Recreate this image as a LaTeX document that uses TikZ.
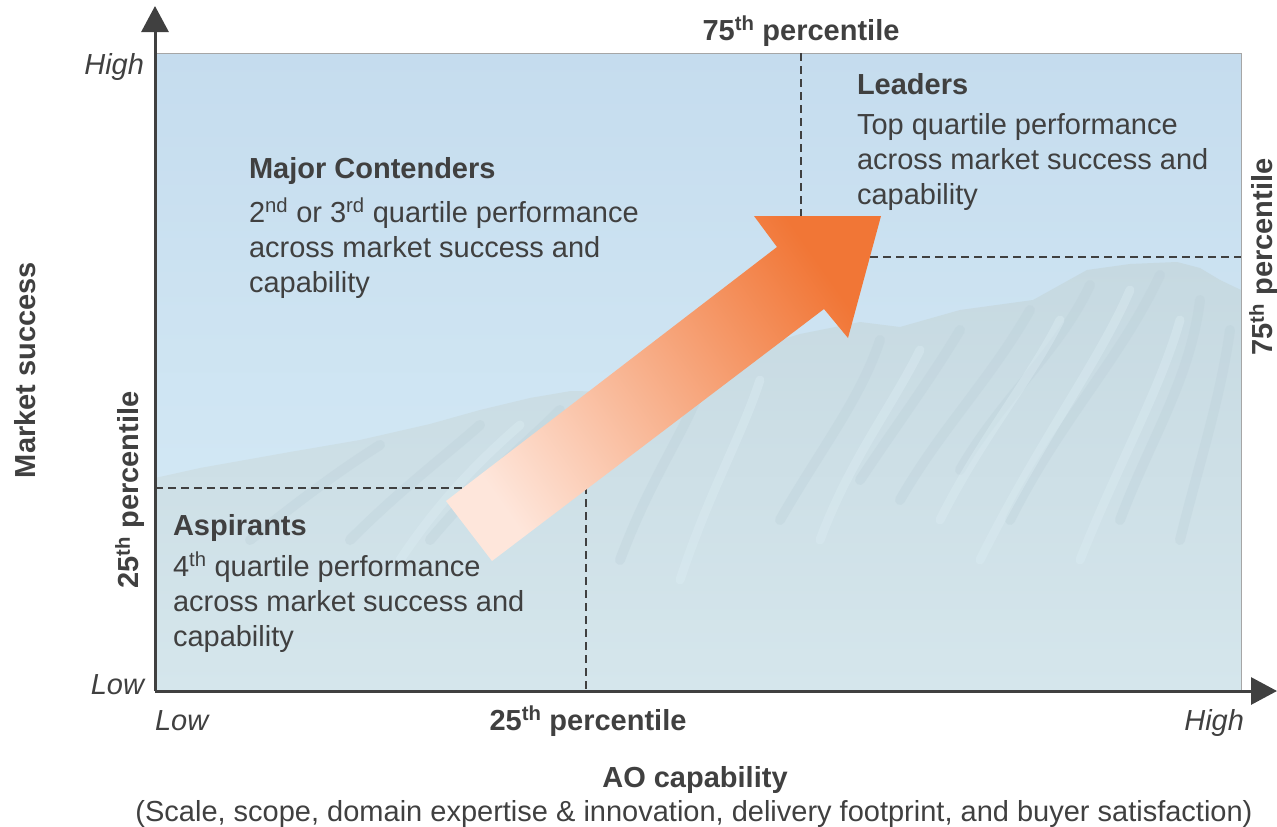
\documentclass[tikz,border=0pt]{standalone}
\usepackage{fontspec}
\setmainfont{Liberation Sans}
\usetikzlibrary{arrows.meta}
\definecolor{txt}{HTML}{404040}
\definecolor{skytop}{HTML}{C5DCEE}
\definecolor{skybot}{HTML}{D8EDF7}
\definecolor{mtntop}{HTML}{C6D9E1}
\definecolor{mtnbot}{HTML}{D5E6EC}
\definecolor{mshade}{HTML}{BCD0D9}
\definecolor{msnow}{HTML}{DCEDF3}
\definecolor{arrtail}{HTML}{FEE6DB}
\definecolor{arrtip}{HTML}{F17636}
\begin{document}
\begin{tikzpicture}[x=1pt,y=-1pt,
  every node/.style={inner sep=0pt,outer sep=0pt,text=txt,font=\fontsize{29}{35}\selectfont},
  axisline/.style={draw=txt,line width=3pt,-{Triangle[width=27pt,length=26pt]}},
  qline/.style={draw=txt,line width=1.6pt,dash pattern=on 8pt off 5pt},
  ttl/.style={anchor=base west,font=\fontsize{29}{35}\selectfont\bfseries},
  body/.style={anchor=base west,align=left},
  tick/.style={font=\fontsize{29}{35}\selectfont\itshape},
  bold/.style={font=\fontsize{29}{35}\selectfont\bfseries},
  ridge/.style={draw=mshade,line width=10pt,line cap=round,opacity=0.35},
  snow/.style={draw=msnow,line width=9pt,line cap=round,opacity=0.4}]
\useasboundingbox (0,0) rectangle (1277,827);
% background plot area
\shade[top color=skytop,bottom color=skybot] (155,53) rectangle (1241,691);
\shade[top color=mtntop,bottom color=mtnbot]
  (155,478) -- (200,468) -- (290,452) -- (360,440) -- (430,424) -- (480,410) -- (530,398)
  -- (571,391) -- (620,392) -- (680,380) -- (740,352) -- (800,334) -- (860,322) -- (900,327)
  -- (960,310) -- (1033,300) -- (1060,285) -- (1087,270) -- (1130,264) -- (1177,262)
  -- (1200,268) -- (1220,280) -- (1241,290) -- (1241,691) -- (155,691) -- cycle;
% mountain texture
\begin{scope}
\clip (155,478) -- (200,468) -- (290,452) -- (360,440) -- (430,424) -- (480,410) -- (530,398)
  -- (571,391) -- (620,392) -- (680,380) -- (740,352) -- (800,334) -- (860,322) -- (900,327)
  -- (960,310) -- (1033,300) -- (1060,285) -- (1087,270) -- (1130,264) -- (1177,262)
  -- (1200,268) -- (1220,280) -- (1241,290) -- (1241,691) -- (155,691) -- cycle;
\draw[ridge] (1160,275) .. controls (1120,360) and (1060,420) .. (1010,520);
\draw[ridge] (1090,285) .. controls (1060,350) and (1000,400) .. (960,470);
\draw[ridge] (1200,300) .. controls (1190,380) and (1150,440) .. (1120,520);
\draw[ridge] (1030,310) .. controls (990,380) and (940,430) .. (900,500);
\draw[ridge] (960,330) .. controls (930,380) and (900,420) .. (860,480);
\draw[ridge] (880,340) .. controls (860,400) and (820,450) .. (780,520);
\draw[ridge] (1230,330) .. controls (1220,400) and (1200,460) .. (1180,540);
\draw[ridge] (560,410) .. controls (520,450) and (480,480) .. (430,540);
\draw[ridge] (480,425) .. controls (440,460) and (400,490) .. (350,540);
\draw[ridge] (380,445) .. controls (340,470) and (300,500) .. (250,540);
\draw[ridge] (700,390) .. controls (680,440) and (650,480) .. (620,560);
\draw[snow] (1130,290) .. controls (1100,360) and (1040,440) .. (980,560);
\draw[snow] (1060,320) .. controls (1030,380) and (980,440) .. (940,520);
\draw[snow] (1180,320) .. controls (1160,390) and (1120,460) .. (1080,560);
\draw[snow] (920,350) .. controls (890,410) and (850,460) .. (820,540);
\draw[snow] (520,425) .. controls (480,460) and (440,500) .. (400,560);
\draw[snow] (760,380) .. controls (740,440) and (710,490) .. (680,580);
\end{scope}
\draw[gray!70,line width=1pt] (155,53) -- (1241,53) -- (1241,691);
% quartile lines
\coordinate (q75top) at (801,53);
\coordinate (q75c) at (801,257);
\coordinate (q75r) at (1241,257);
\coordinate (q25l) at (155,488);
\coordinate (q25c) at (586,488);
\coordinate (q25b) at (586,691);
\draw[qline] (q75top) -- (q75c) -- (q75r);
\draw[qline] (q25l) -- (q25c) -- (q25b);
% big arrow
\shade[top color=arrtip,bottom color=arrtail,shading angle=-55]
  (446,501) -- (777,247) -- (754,216) -- (881,216) -- (848,338) -- (824,309) -- (492,561) -- cycle;
% axes
\coordinate (orig) at (155,691);
\coordinate (ytip) at (155,6);
\coordinate (xtip) at (1277,691);
\draw[axisline] (orig) -- (ytip);
\draw[axisline] (orig) -- (xtip);
% tick labels
\node[tick,anchor=base east] (yhigh) at (144,74) {High};
\node[tick,anchor=base east] (ylow) at (144,694) {Low};
\node[tick,anchor=base west] (xlow) at (155,730) {Low};
\node[tick,anchor=base east] (xhigh) at (1244,730) {High};
% percentile labels
\node[bold,anchor=base] (p75t) at (801,40) {75\textsuperscript{th} percentile};
\node[bold,anchor=base] (p25b) at (588,730) {25\textsuperscript{th} percentile};
\node[bold,rotate=90] (p25l) at (130,490) {25\textsuperscript{th} percentile};
\node[bold,rotate=90] (p75r) at (1264,257) {75\textsuperscript{th} percentile};
% axis titles
\node[bold,rotate=90] (ytitle) at (25,370) {Market success};
\node[bold,anchor=base] (xtitle) at (695,787) {AO capability};
\node[anchor=base] (xsub) at (694,821) {(Scale, scope, domain expertise \& innovation, delivery footprint, and buyer satisfaction)};
% quadrant texts
\node[ttl] (mct) at (249,178) {Major Contenders};
\node[body] (mcb) at (249,292) {2\textsuperscript{nd} or 3\textsuperscript{rd} quartile performance\\across market success and\\capability};
\node[ttl] (ldt) at (857,94) {Leaders};
\node[body] (ldb) at (857,204) {Top quartile performance\\across market success and\\capability};
\node[ttl] (ast) at (173,535) {Aspirants};
\node[body] (asb) at (173,646) {4\textsuperscript{th} quartile performance\\across market success and\\capability};
\end{tikzpicture}
\end{document}
